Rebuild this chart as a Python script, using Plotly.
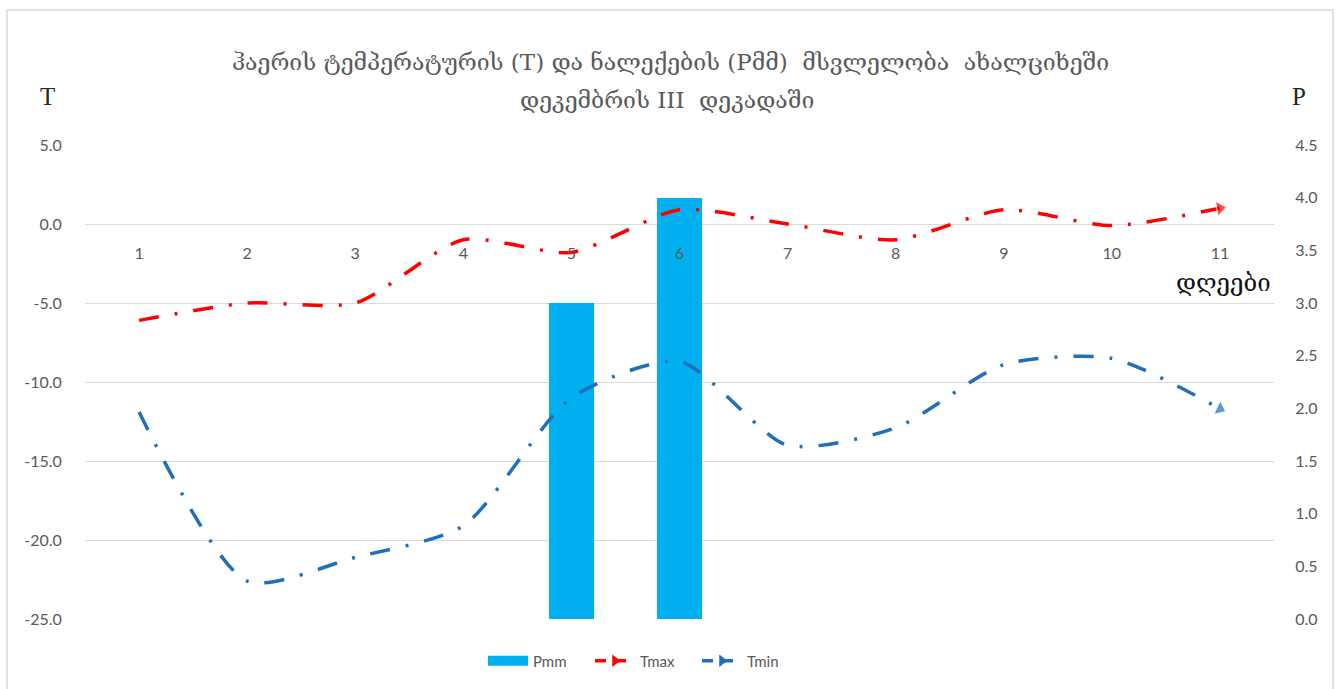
import plotly.graph_objects as go

# ---------------- data ----------------
days = [1, 2, 3, 4, 5, 6, 7, 8, 9, 10, 11]
day_labels = [str(d) for d in days]
pmm = [None, None, None, None, 3.0, 4.0, None, None, None, None, None]
tmax = [-6.1, -5.0, -5.0, -1.0, -1.8, 0.9, 0.0, -1.0, 0.9, -0.1, 1.0]
tmin = [-11.9, -22.6, -21.1, -19.1, -11.0, -8.7, -14.0, -12.9, -8.9, -8.5, -11.7]

t_ticks = [-25, -20, -15, -10, -5, 0, 5]
t_labels = ["-25.0", "-20.0", "-15.0", "-10.0", "-5.0", "0.0", "5.0"]
p_ticks = [0, 0.5, 1.0, 1.5, 2.0, 2.5, 3.0, 3.5, 4.0, 4.5]
p_labels = ["0.0", "0.5", "1.0", "1.5", "2.0", "2.5", "3.0", "3.5", "4.0", "4.5"]

title_line1 = "ჰაერის ტემპერატურის (T) და ნალექების (Pმმ)  მსვლელობა  ახალციხეში"
title_line2 = "დეკემბრის III  დეკადაში"
x_title = "დღეები"

# ---------------- style ----------------
W, H = 1341, 689
L, R, T, B = 85, 67, 145, 70
GRAY = "#595959"
TICKFONT = dict(family="Lato, Open Sans, sans-serif", size=16, color=GRAY)
GEO = "DejaVu Serif, DejaVu Sans, serif"
RED = "#FF0000"
BLUE = "#1F6FB9"
DASH = "20px,16px,3px,16px"
SMOOTH = 0.7
n = len(days)
end_sizes = [0] * (n - 1) + [13]

fig = go.Figure()

fig.add_trace(go.Bar(
    x=days, y=pmm, name="Pmm", yaxis="y", width=0.41, showlegend=False,
    marker=dict(color="#00B0F0", line=dict(width=0)),
))

fig.add_trace(go.Scatter(
    x=days, y=tmax, yaxis="y2", mode="lines+markers", name="Tmax",
    showlegend=False, legendgroup="tmax",
    line=dict(color=RED, width=3.5, dash=DASH, shape="spline", smoothing=SMOOTH),
    marker=dict(symbol="triangle-up", angleref="previous", size=end_sizes, color=RED),
))
fig.add_trace(go.Scatter(
    x=days, y=tmin, yaxis="y2", mode="lines+markers", name="Tmin",
    showlegend=False, legendgroup="tmin",
    line=dict(color=BLUE, width=3.5, dash=DASH, shape="spline", smoothing=SMOOTH),
    marker=dict(symbol="triangle-up", angleref="previous", size=end_sizes, color=BLUE),
))
# legend entries
fig.add_trace(go.Scatter(
    x=[None], y=[None], yaxis="y", mode="lines", name="Pmm",
    line=dict(color="#00B0F0", width=10),
))
fig.add_trace(go.Scatter(
    x=[None], y=[None], yaxis="y2", mode="lines+markers", name="Tmax", legendgroup="tmax",
    line=dict(color=RED, width=3.5, dash="11px,9px"),
    marker=dict(symbol="triangle-right", size=11, color=RED),
))
fig.add_trace(go.Scatter(
    x=[None], y=[None], yaxis="y2", mode="lines+markers", name="Tmin", legendgroup="tmin",
    line=dict(color=BLUE, width=3.5, dash="11px,9px"),
    marker=dict(symbol="triangle-right", size=11, color=BLUE),
))

plot_h = H - T - B
plot_w = W - L - R

def py(pix_y):
    return (H - B - pix_y) / plot_h

def px(pix_x):
    return (pix_x - L) / plot_w

fig.update_layout(
    width=W, height=H,
    margin=dict(l=L, r=R, t=T, b=B, pad=0),
    paper_bgcolor="white", plot_bgcolor="white",
    bargap=0,
    title=dict(
        text=title_line1, x=0.5, xanchor="center", xref="container",
        y=1 - 62 / H, yanchor="middle", yref="container",
        font=dict(family=GEO, size=23, color=GRAY),
    ),
    xaxis=dict(
        range=[0.5, 11.5], tickmode="array", tickvals=days, ticktext=day_labels,
        showgrid=False, zeroline=False, showline=False,
        anchor="free", position=25 / 30,
        ticks="outside", ticklen=15, tickcolor="rgba(0,0,0,0)",
        tickfont=TICKFONT, fixedrange=True,
    ),
    yaxis=dict(
        side="right", range=[0, 4.5], tickmode="array", tickvals=p_ticks, ticktext=p_labels,
        showgrid=False, zeroline=False, showline=False,
        ticks="outside", ticklen=17, tickcolor="rgba(0,0,0,0)",
        tickfont=TICKFONT,
    ),
    yaxis2=dict(
        overlaying="y", side="left", range=[-25, 5], tickmode="array",
        tickvals=t_ticks, ticktext=t_labels,
        showgrid=True, gridcolor="#D9D9D9", gridwidth=1,
        zeroline=False, showline=False,
        ticks="outside", ticklen=19, tickcolor="rgba(0,0,0,0)",
        tickfont=TICKFONT,
    ),
    legend=dict(
        orientation="h", x=px(483), xanchor="left", y=py(661), yanchor="middle",
        font=dict(family="Lato, Open Sans, sans-serif", size=15, color=GRAY),
        bgcolor="rgba(0,0,0,0)", itemwidth=40,
        entrywidth=52, entrywidthmode="pixels",
    ),
    showlegend=True,
    annotations=[
        dict(text=title_line2, xref="paper", yref="paper", x=px(667), y=py(100),
             xanchor="center", yanchor="middle",
             showarrow=False, font=dict(family=GEO, size=23, color=GRAY)),
        dict(text="T", xref="paper", yref="paper", x=px(47), y=py(97),
             xanchor="center", yanchor="middle",
             showarrow=False, font=dict(family="Liberation Serif, serif", size=25, color="#262626")),
        dict(text="P", xref="paper", yref="paper", x=px(1299), y=py(97),
             xanchor="center", yanchor="middle",
             showarrow=False, font=dict(family="Liberation Serif, serif", size=25, color="#262626")),
        dict(text=x_title, xref="paper", yref="paper", x=px(1223), y=py(283),
             xanchor="center", yanchor="middle",
             showarrow=False, font=dict(family=GEO, size=24, color="#111111")),
    ],
    shapes=[
        dict(type="rect", xref="paper", yref="paper",
             x0=px(7), x1=px(1333), y0=py(700), y1=py(10),
             line=dict(color="#D9D9D9", width=1.5), fillcolor="rgba(0,0,0,0)", layer="below"),
    ],
)

fig.write_html("out.html", config={"displayModeBar": False},
               post_script="document.body.style.margin='0';")
